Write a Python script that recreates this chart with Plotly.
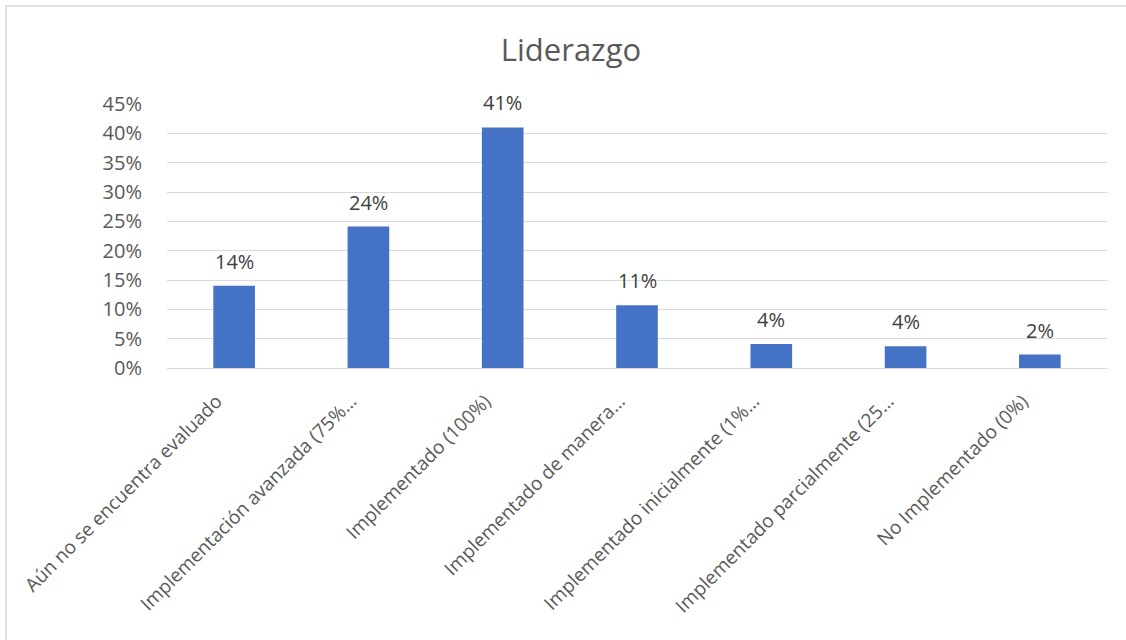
import plotly.graph_objects as go

categories = [
    "Aún no se encuentra evaluado",
    "Implementación avanzada (75%…",
    "Implementado (100%)",
    "Implementado de manera…",
    "Implementado inicialmente (1%…",
    "Implementado parcialmente (25…",
    "No Implementado (0%)",
]
values = [0.14, 0.241, 0.41, 0.107, 0.041, 0.037, 0.023]
y_ticks = [0, 0.05, 0.10, 0.15, 0.20, 0.25, 0.30, 0.35, 0.40, 0.45]

W, H = 1126, 640
L, R, T, B = 167, 19, 104, 272

PAD = "\u00a0" * 5
tick_text = [c + PAD for c in categories]

fig = go.Figure()
fig.add_trace(go.Bar(
    x=categories, y=values,
    marker=dict(color="#4472C4", line=dict(width=0)),
    width=0.31,
    hoverinfo="skip",
))

for c, v in zip(categories, values):
    fig.add_annotation(
        x=c, y=v, xref="x", yref="y",
        text=f"{round(v*100):d}%",
        showarrow=False, yanchor="bottom", yshift=9,
        font=dict(family="Open Sans", size=20, color="#404040"),
    )

pw = W - L - R
ph = H - T - B
fig.add_shape(
    type="rect", xref="paper", yref="paper",
    x0=-(L - 6) / pw, x1=(W + 20 - L) / pw,
    y0=-(B + 20) / ph, y1=1 + (T - 6) / ph,
    line=dict(color="#d9d9d9", width=1.5), fillcolor="rgba(0,0,0,0)", layer="below",
)

fig.update_layout(
    width=W, height=H,
    margin=dict(l=L, r=R, t=T, b=B, pad=0),
    paper_bgcolor="white", plot_bgcolor="white",
    showlegend=False,
    title=dict(text="Liderazgo", x=571 / W, xanchor="center", y=1 - 50 / H, yanchor="middle",
               font=dict(family="Open Sans", size=31, color="#595959")),
    font=dict(family="Open Sans", color="#595959"),
    bargap=0.69,
)
fig.update_yaxes(
    range=[0, 0.45], tickvals=y_ticks, tickformat=".0%",
    showgrid=True, gridcolor="#d9d9d9", gridwidth=1,
    zeroline=True, zerolinecolor="#d9d9d9", zerolinewidth=1,
    showline=False, ticks="", ticklabelstandoff=24,
    tickfont=dict(family="Open Sans", size=20, color="#595959"),
)
fig.update_xaxes(
    tickangle=-45, showline=False, ticks="", showgrid=False,
    tickmode="array", tickvals=categories, ticktext=tick_text,
    tickfont=dict(family="Open Sans", size=19, color="#595959"),
)

fig.write_html("out.html", config={"displayModeBar": False},
               post_script="document.body.style.margin='0';")
